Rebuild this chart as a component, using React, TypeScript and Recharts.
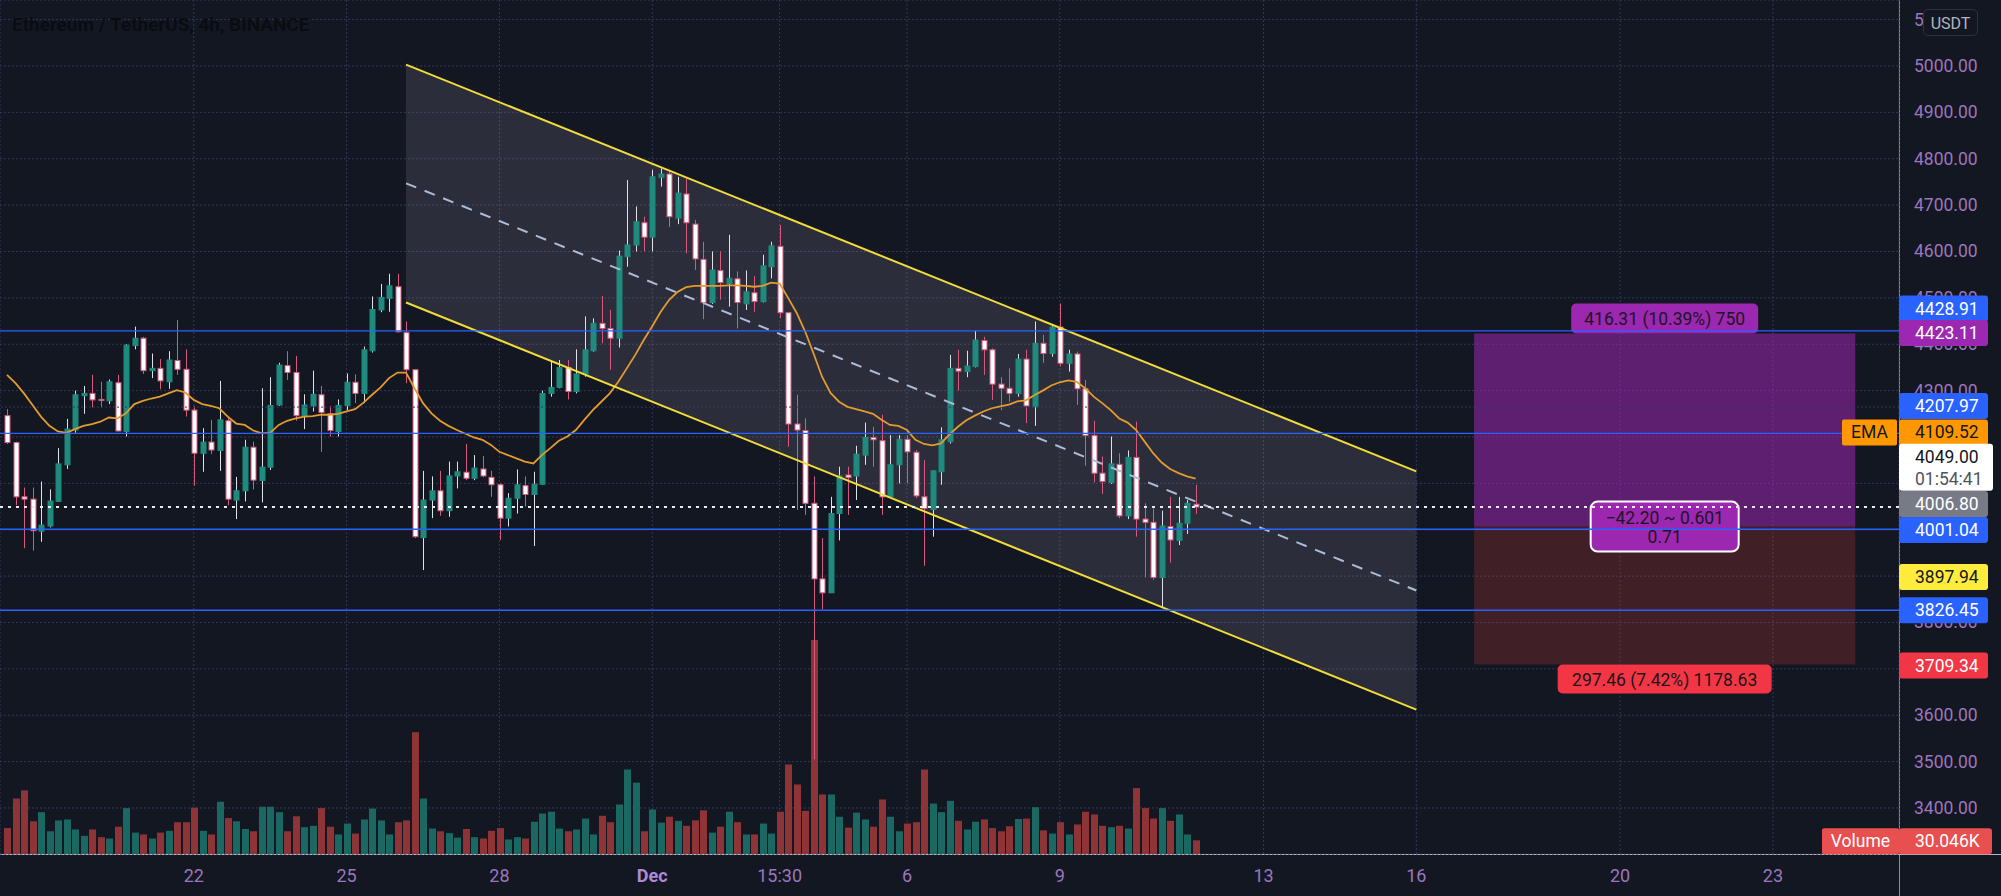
import React from "react";
import {
  ComposedChart,
  Bar,
  Line,
  Area,
  XAxis,
  YAxis,
  CartesianGrid,
  ReferenceLine,
  ReferenceArea,
} from "recharts";

// 4h bars, index 0 = Nov 18 ~16:00, index 76 = Dec 1 00:00
const OPEN = [4246,4188,4071,4066,3997,4008,4061,4140,4215,4289,
  4294,4281,4278,4317,4212,4397,4413,4343,4348,4319,
  4365,4346,4258,4165,4189,4171,4235,4064,4084,4178,
  4106,4135,4269,4354,4339,4246,4267,4291,4250,4212,
  4268,4318,4294,4386,4474,4499,4524,4425,4345,3983,
  4064,4084,4041,4116,4124,4111,4131,4113,4097,4025,
  4068,4095,4076,4098,4294,4307,4350,4298,4336,4386,
  4445,4434,4413,4589,4614,4662,4631,4760,4767,4672,
  4724,4659,4583,4490,4559,4531,4541,4487,4511,4492,
  4567,4611,4468,4228,4214,4057,3894,3864,4035,4118,
  4116,4161,4199,4192,4071,4140,4195,4167,4071,4044,
  4125,4190,4348,4341,4352,4408,4388,4314,4305,4294,
  4368,4265,4402,4380,4437,4359,4379,4304,4203,4122,
  4102,4141,4030,4156,4023,4016,3897,4007,3977,4014,
  4055];
const HIGH = [4260,4190,4091,4091,4104,4087,4176,4239,4300,4310,
  4334,4319,4324,4334,4400,4438,4416,4380,4368,4385,
  4452,4389,4267,4219,4237,4321,4244,4114,4194,4190,
  4305,4329,4360,4385,4375,4292,4343,4310,4267,4281,
  4337,4335,4395,4503,4530,4552,4552,4449,4345,4127,
  4115,4127,4147,4147,4185,4161,4159,4127,4100,4079,
  4130,4115,4125,4300,4365,4366,4366,4389,4460,4456,
  4504,4474,4602,4754,4697,4675,4776,4779,4776,4761,
  4758,4668,4621,4600,4600,4636,4557,4559,4547,4593,
  4621,4657,4468,4291,4240,4115,3982,4071,4136,4136,
  4181,4231,4222,4248,4204,4204,4204,4172,4150,4128,
  4221,4377,4388,4386,4429,4416,4391,4329,4348,4379,
  4388,4449,4420,4442,4488,4388,4384,4323,4235,4158,
  4201,4165,4171,4233,4057,4046,4041,4071,4071,4064,
  4097];
const LOW = [4185,4053,3960,3955,3974,4005,4060,4131,4209,4250,
  4264,4264,4271,4212,4201,4389,4336,4327,4303,4304,
  4334,4244,4095,4125,4163,4127,4053,4023,4061,4087,
  4059,4129,4267,4323,4235,4217,4255,4168,4201,4201,
  4258,4273,4273,4382,4469,4470,4425,4316,3982,3913,
  4025,4030,4028,4089,4107,4107,4113,4071,3978,4007,
  4035,4050,3965,4097,4287,4305,4281,4294,4330,4384,
  4402,4345,4393,4567,4600,4600,4600,4740,4653,4659,
  4596,4560,4454,4487,4496,4481,4434,4474,4470,4490,
  4542,4456,4179,4043,4032,3505,3828,3864,3977,4032,
  4064,4140,4136,4032,4070,4100,4100,4068,3922,3985,
  4097,4186,4300,4329,4350,4334,4280,4258,4276,4287,
  4230,4224,4360,4373,4352,4341,4269,4138,4102,4077,
  4099,4025,4023,3985,3897,3892,3831,3929,3967,3991,
  4034];
const CLOSE = [4188,4071,4066,3998,4010,4062,4142,4217,4291,4294,
  4280,4280,4319,4213,4398,4413,4343,4348,4321,4366,
  4346,4258,4165,4189,4172,4237,4066,4084,4178,4107,
  4135,4268,4355,4339,4246,4269,4292,4253,4214,4268,
  4318,4294,4388,4475,4501,4526,4427,4345,3985,4064,
  4084,4041,4116,4125,4111,4133,4116,4097,4025,4068,
  4097,4076,4098,4294,4307,4350,4298,4336,4388,4445,
  4434,4413,4590,4614,4664,4631,4761,4767,4675,4726,
  4662,4584,4490,4560,4533,4542,4490,4513,4492,4569,
  4612,4468,4228,4215,4057,3894,3864,4035,4116,4113,
  4163,4199,4194,4071,4140,4195,4168,4073,4046,4127,
  4194,4348,4342,4353,4409,4388,4314,4305,4294,4368,
  4267,4402,4380,4437,4359,4379,4304,4203,4122,4104,
  4142,4030,4156,4023,4016,3897,4008,3978,4014,4057,
  4049];
// volume in thousands of ETH
const VOLUME = [57,122,140,72,92,50,74,76,54,40,
  54,37,34,60,101,47,43,34,47,51,
  70,70,102,51,43,115,79,72,55,50,
  104,104,92,50,83,59,62,101,60,43,
  67,45,76,100,74,43,70,74,268,122,
  56,50,46,36,55,37,34,51,57,32,
  37,34,71,89,93,56,50,54,78,43,
  84,70,109,186,157,50,98,69,82,73,
  62,74,96,47,60,93,70,43,43,67,
  45,93,197,153,95,471,131,131,82,58,
  91,76,60,120,82,50,67,70,186,111,
  92,117,73,54,71,76,57,50,61,77,
  78,103,52,45,70,43,65,93,87,62,
  59,62,56,145,101,78,101,73,87,43,
  30.046];
const EMA20 = [4334,4316,4294,4269,4244,4224,4212,4209,4217,4224,
  4228,4233,4242,4240,4251,4271,4278,4283,4287,4294,
  4301,4296,4280,4271,4267,4262,4244,4229,4226,4214,
  4208,4209,4226,4235,4240,4244,4245,4248,4248,4250,
  4255,4260,4274,4291,4307,4327,4339,4339,4305,4273,
  4251,4235,4224,4215,4207,4199,4194,4183,4168,4161,
  4154,4147,4143,4161,4176,4192,4201,4215,4237,4258,
  4276,4294,4319,4348,4377,4409,4439,4470,4496,4513,
  4523,4526,4526,4526,4526,4527,4527,4526,4524,4526,
  4533,4531,4500,4468,4428,4380,4330,4295,4276,4265,
  4260,4255,4250,4237,4226,4224,4215,4194,4185,4182,
  4186,4205,4222,4236,4246,4255,4262,4266,4270,4277,
  4279,4290,4300,4311,4318,4322,4319,4305,4287,4273,
  4258,4240,4231,4215,4190,4165,4145,4131,4122,4115,
  4110];

const X_TICKS = [22, 40, 58, 76, 91, 106, 124, 148, 166, 190, 208];
const X_LABELS = ["22", "25", "28", "Dec", "15:30", "6", "9", "13", "16", "20", "23"];
const Y_TICKS = [3400, 3500, 3600, 3700, 3800, 3900, 4000, 4100, 4200, 4300, 4400, 4500, 4600, 4700, 4800, 4900, 5000, 5100];

const LAST_SLOT = 222;
const CHANNEL_BARS = [47, 166];
const CHANNEL_UPPER = [5003, 4126];
const CHANNEL_LOWER = [4490, 3612];
const CHANNEL_MID = [4747, 3869];

const LEVELS = [4428.91, 4207.97, 4001.04, 3826.45];
const EXTRA_GRID = 4264.5;
const LAST_PRICE = 4049.0;
const EMA_LAST = 4109.52;
const ALERT_PRICE = 3897.94;
const ENTRY = 4006.8;
const TARGET = 4423.11;
const STOP = 3709.34;
const POSITION_BARS = [172.8, 217.7];
const LAST_VOLUME = 30.046;

const BG = "#131722";
const UP = "#1f8a7d";
const DN_EDGE = "#d9587c";
const VOL_UP = "#1b6762";
const VOL_DN = "#8e3437";
const AXIS_TXT = "#9b76bd";
const GRID = "#34375c";
const BLUE = "#2962ff";
const FONT = "Roboto, sans-serif";

const X_DOMAIN: [number, number] = [-0.8245, 222.85];
const P_DOMAIN: [number, number] = [3300.8, 5142.3];
const V_DOMAIN: [number, number] = [0, 1879];
const MARGIN = { top: 0, right: 0, bottom: 0, left: 0 };

const rows = Array.from({ length: LAST_SLOT + 1 }, (_, i) => {
  const r: any = { i };
  if (i < OPEN.length) {
    r.o = OPEN[i];
    r.h = HIGH[i];
    r.l = LOW[i];
    r.c = CLOSE[i];
    r.v = VOLUME[i];
    r.ema = EMA20[i];
  }
  const k = CHANNEL_BARS.indexOf(i);
  if (k >= 0) {
    r.cu = CHANNEL_UPPER[k];
    r.cl = CHANNEL_LOWER[k];
    r.cm = CHANNEL_MID[k];
    r.band = [CHANNEL_LOWER[k], CHANNEL_UPPER[k]];
  }
  return r;
});

const Candle = (props: any) => {
  const { x, y, width, height, payload } = props;
  if (!payload || payload.o == null || x == null) return null;
  const { o, h, l, c } = payload;
  const top = Math.min(y, y + height);
  const span = Math.abs(height);
  const k = h === l ? 0 : span / (h - l);
  const px = Math.round(x + width / 2);
  const yO = top + (h - o) * k;
  const yC = top + (h - c) * k;
  const up = c > o;
  const bTop = Math.min(yO, yC);
  const bH = Math.max(1, Math.abs(yO - yC));
  return (
    <g>
      <line x1={px + 0.5} x2={px + 0.5} y1={top} y2={top + span} stroke={up ? "#dfe1e6" : DN_EDGE} strokeWidth={1} />
      <rect x={px - 2} y={bTop} width={5} height={bH} fill={up ? UP : "#ffffff"} stroke={up ? UP : DN_EDGE} strokeWidth={1} />
    </g>
  );
};

const VolBar = (props: any) => {
  const { x, y, width, height, payload } = props;
  if (!payload || payload.v == null || x == null) return null;
  const px = Math.round(x + width / 2);
  return <rect x={px - 3} y={y} width={7} height={height} fill={payload.c > payload.o ? VOL_UP : VOL_DN} />;
};

const XTick = ({ x, y, payload }: any) => {
  const label = X_LABELS[X_TICKS.indexOf(payload.value)];
  const bold = label === "Dec";
  return (
    <text x={x} y={y + 28} textAnchor="middle" fill={bold ? "#b088d8" : AXIS_TXT} fontSize={18} fontWeight={bold ? 700 : 400} fontFamily={FONT}>
      {label}
    </text>
  );
};

const YTick = ({ x, y, payload }: any) => (
  <text x={x + 15} y={y + 6} fill={AXIS_TXT} fontSize={17.5} fontFamily={FONT}>
    {Number(payload.value).toFixed(2)}
  </text>
);

const AxisBadge = (props: any) => {
  const { viewBox, text, sub, bg, fg, dy = 0, w = 89, tag, tagW = 55, tagGap = 2 } = props;
  if (!viewBox) return null;
  const x = viewBox.x + viewBox.width;
  const cy = viewBox.y + dy;
  const h = sub ? 47 : 26;
  const top = cy - h / 2;
  return (
    <g fontFamily={FONT} fontSize={17.5}>
      {tag && (
        <g>
          <rect x={x - tagW - tagGap} y={top} width={tagW} height={h} rx={2} fill={bg} />
          <text x={x - tagGap - tagW / 2} y={cy + 6} textAnchor="middle" fill={fg}>{tag}</text>
        </g>
      )}
      <rect x={x} y={top} width={w} height={h} rx={3} fill={bg} />
      {sub ? (
        <g>
          <text x={x + 16} y={top + 19} fill={fg}>{text}</text>
          <text x={x + 16} y={top + 41} fill="#50535e">{sub}</text>
        </g>
      ) : (
        <text x={x + 16} y={cy + 6} fill={fg}>{text}</text>
      )}
    </g>
  );
};

const ProfitLabel = ({ viewBox }: any) => {
  if (!viewBox) return null;
  const cx = viewBox.x + viewBox.width / 2;
  return (
    <g fontFamily={FONT} fontSize={17.5}>
      <rect x={cx - 93.5} y={viewBox.y - 30} width={187} height={30} rx={5} fill="#9c27b0" />
      <text x={cx} y={viewBox.y - 9} textAnchor="middle" fill="#1c1620">416.31 (10.39%) 750</text>
    </g>
  );
};

const LossLabel = ({ viewBox }: any) => {
  if (!viewBox) return null;
  const cx = viewBox.x + viewBox.width / 2;
  const yb = viewBox.y + viewBox.height;
  return (
    <g fontFamily={FONT} fontSize={17.5}>
      <rect x={cx - 107} y={yb} width={214} height={29} rx={5} fill="#f23645" />
      <text x={cx} y={yb + 21} textAnchor="middle" fill="#1c1416">297.46 (7.42%) 1178.63</text>
      <rect x={cx - 74} y={viewBox.y - 25} width={148} height={50} rx={7} fill="#9c27b0" stroke="#ffffff" strokeWidth={2} />
      <text x={cx} y={viewBox.y - 3} textAnchor="middle" fill="#1c1620">−42.20 ~ 0.601</text>
      <text x={cx} y={viewBox.y + 16} textAnchor="middle" fill="#1c1620">0.71</text>
    </g>
  );
};

// same axes as the main chart, without ticks, so the price badges sit above the tick labels
const BadgeLayer = () => (
  <ComposedChart width={2001} height={896} data={rows} margin={MARGIN}>
    <XAxis dataKey="i" type="number" domain={X_DOMAIN} allowDataOverflow height={42} tick={false} tickLine={false} axisLine={false} />
    <YAxis yAxisId="p" orientation="right" type="number" domain={P_DOMAIN} allowDataOverflow width={102} tick={false} tickLine={false} axisLine={false} />
    <YAxis yAxisId="vol" type="number" domain={V_DOMAIN} allowDataOverflow hide />
    <ReferenceLine yAxisId="p" y={LEVELS[0]} stroke="none" label={<AxisBadge text="4428.91" bg={BLUE} fg="#ffffff" dy={-22.3} />} />
    <ReferenceLine yAxisId="p" y={TARGET} stroke="none" label={<AxisBadge text="4423.11" bg="#9c27b0" fg="#ffffff" dy={-0.5} />} />
    <ReferenceLine yAxisId="p" y={LEVELS[1]} stroke="none" label={<AxisBadge text="4207.97" bg={BLUE} fg="#ffffff" dy={-27.4} />} />
    <ReferenceLine yAxisId="p" y={EMA_LAST} stroke="none" label={<AxisBadge text="4109.52" tag="EMA" bg="#ff9800" fg="#131722" dy={-46.5} />} />
    <ReferenceLine yAxisId="p" y={LAST_PRICE} stroke="none" label={<AxisBadge text="4049.00" sub="01:54:41" bg="#ffffff" fg="#131722" w={94} dy={-39.7} />} />
    <ReferenceLine yAxisId="p" y={ENTRY} stroke="none" label={<AxisBadge text="4006.80" bg="#787b86" fg="#ffffff" dy={-22.6} />} />
    <ReferenceLine yAxisId="p" y={LEVELS[2]} stroke="none" label={<AxisBadge text="4001.04" bg={BLUE} fg="#ffffff" dy={0.7} />} />
    <ReferenceLine yAxisId="p" y={ALERT_PRICE} stroke="none" label={<AxisBadge text="3897.94" bg="#ffeb3b" fg="#131722" />} />
    <ReferenceLine yAxisId="p" y={LEVELS[3]} stroke="none" label={<AxisBadge text="3826.45" bg={BLUE} fg="#ffffff" />} />
    <ReferenceLine yAxisId="p" y={STOP} stroke="none" label={<AxisBadge text="3709.34" bg="#f23645" fg="#ffffff" dy={1} />} />
    <ReferenceLine
      yAxisId="vol"
      y={LAST_VOLUME}
      stroke="none"
      label={<AxisBadge text="30.046K" tag="Volume" tagW={77} tagGap={0} bg="#e84f4f" fg="#ffffff" w={93} dy={0.8} />}
    />
  </ComposedChart>
);

export default function App() {
  return (
    <div style={{ position: "relative", width: 2001, height: 896, background: BG, fontFamily: FONT, overflow: "hidden" }}>
      <style>{`body{margin:0;background:${BG};}`}</style>
      <div style={{ position: "absolute", left: 1899, top: 0, width: 1, height: 896, background: "#8b8e99" }} />
      <div style={{ position: "absolute", left: 0, top: 854, width: 2001, height: 1, background: "#b4b7c2" }} />
      <div style={{ position: "absolute", left: 0, top: 0 }}>
        <ComposedChart width={2001} height={896} data={rows} margin={MARGIN}>
          <XAxis
            dataKey="i"
            type="number"
            domain={X_DOMAIN}
            allowDataOverflow
            ticks={X_TICKS}
            interval={0}
            height={42}
            tickSize={0}
            tickMargin={0}
            axisLine={false}
            tick={<XTick />}
          />
          <XAxis xAxisId="vx" dataKey="i" type="number" domain={X_DOMAIN} allowDataOverflow hide />
          <YAxis
            yAxisId="p"
            orientation="right"
            type="number"
            domain={P_DOMAIN}
            allowDataOverflow
            ticks={Y_TICKS}
            interval={0}
            width={102}
            tickSize={0}
            tickMargin={0}
            axisLine={false}
            tick={<YTick />}
          />
          <YAxis yAxisId="vol" type="number" domain={V_DOMAIN} allowDataOverflow hide />
          <CartesianGrid yAxisId="p" stroke={GRID} strokeDasharray="2 2" />
          <ReferenceLine yAxisId="p" y={EXTRA_GRID} stroke={GRID} strokeDasharray="2 2" />

          <Area
            yAxisId="p"
            dataKey="band"
            type="linear"
            connectNulls
            stroke="none"
            fill="#8a8d99"
            fillOpacity={0.2}
            isAnimationActive={false}
            dot={false}
            activeDot={false}
          />

          <ReferenceArea
            yAxisId="p"
            x1={POSITION_BARS[0]}
            x2={POSITION_BARS[1]}
            y1={ENTRY}
            y2={TARGET}
            fill="#9c27b0"
            fillOpacity={0.55}
            stroke="none"
            label={<ProfitLabel />}
          />

          <Bar xAxisId="vx" yAxisId="vol" dataKey="v" barSize={7} shape={(p: any) => <VolBar {...p} />} isAnimationActive={false} />
          <Bar
            yAxisId="p"
            dataKey={(d: any) => (d.o == null ? null : [d.l, d.h])}
            barSize={7}
            shape={(p: any) => <Candle {...p} />}
            isAnimationActive={false}
          />

          <Line yAxisId="p" dataKey="ema" stroke="#e39b2f" strokeWidth={1.8} dot={false} activeDot={false} isAnimationActive={false} />

          <Line yAxisId="p" dataKey="cu" connectNulls stroke="#f2dc3a" strokeWidth={2} dot={false} activeDot={false} isAnimationActive={false} />
          <Line yAxisId="p" dataKey="cl" connectNulls stroke="#f2dc3a" strokeWidth={2} dot={false} activeDot={false} isAnimationActive={false} />
          <Line yAxisId="p" dataKey="cm" connectNulls stroke="#aebbd6" strokeWidth={2} strokeDasharray="11 9" dot={false} activeDot={false} isAnimationActive={false} />

          {LEVELS.map((lv) => (
            <ReferenceLine key={lv} yAxisId="p" y={lv} stroke={BLUE} strokeWidth={1.3} />
          ))}
          <ReferenceLine yAxisId="p" y={LAST_PRICE} stroke="#e9e9ee" strokeWidth={2} strokeDasharray="3 5" />

          <ReferenceArea
            yAxisId="p"
            x1={POSITION_BARS[0]}
            x2={POSITION_BARS[1]}
            y1={STOP}
            y2={ENTRY}
            fill="#f44336"
            fillOpacity={0.2}
            stroke="none"
            label={<LossLabel />}
          />
        </ComposedChart>
      </div>
      <div style={{ position: "absolute", left: 0, top: 0 }}>
        <BadgeLayer />
      </div>
      <div
        style={{
          position: "absolute",
          left: 12,
          top: 13,
          fontSize: 19,
          fontWeight: 600,
          color: "#0a0c11",
          whiteSpace: "nowrap",
        }}
      >
        Ethereum / TetherUS, 4h, BINANCE
      </div>
      <div
        style={{
          position: "absolute",
          left: 1923,
          top: 9,
          width: 55,
          height: 27,
          border: "1px solid #2e3240",
          borderRadius: 5,
          background: BG,
          color: "#b2b5be",
          fontSize: 16,
          lineHeight: "27px",
          textAlign: "center",
          boxSizing: "border-box",
        }}
      >
        USDT
      </div>
    </div>
  );
}
